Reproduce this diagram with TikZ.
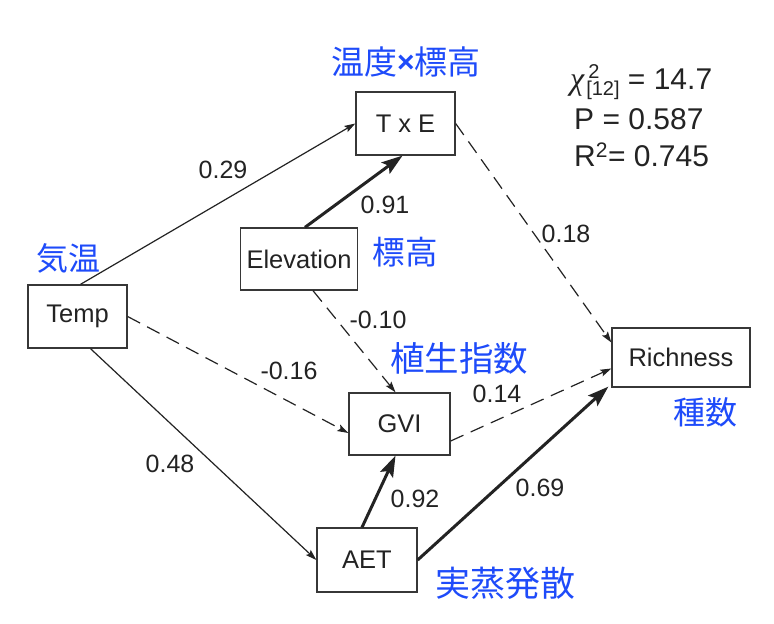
\documentclass[tikz,border=0pt]{standalone}
\usepackage{fontspec}
\setmainfont{Liberation Sans}
\newfontfamily\jp{Noto Sans CJK JP}
\newfontfamily\serifgr{Liberation Serif}
\usetikzlibrary{arrows.meta}
\definecolor{jblue}{RGB}{30,75,250}
\definecolor{boxc}{RGB}{55,55,55}
\definecolor{ink}{RGB}{35,35,35}
\tikzset{
  box/.style={draw=boxc,line width=1.3pt,fill=white,inner sep=0pt,
    font=\fontsize{25.5}{25.5}\selectfont,text=ink},
  thinarrow/.style={line width=1.2pt,draw=ink,-{Stealth[length=11pt,width=7pt,inset=2pt]}},
  dasharrow/.style={thinarrow,dash pattern=on 14pt off 8pt},
  thickarrow/.style={line width=3pt,draw=ink,-{Stealth[length=21pt,width=14pt,inset=4pt]}},
  coef/.style={font=\fontsize{25}{25}\selectfont,text=ink,inner sep=0pt},
  stat/.style={font=\fontsize{30}{30}\selectfont,text=ink,inner sep=0pt,anchor=west},
  jlab/.style={font=\jp\fontsize{33}{33}\selectfont,text=jblue,inner sep=0pt}
}
\begin{document}
\begin{tikzpicture}[x=1pt,y=-1pt]
\useasboundingbox[fill=white] (0,0) rectangle (774,624);
% nodes
\node[box,minimum width=99,minimum height=63] (txe) at (405.5,123.5) {T x E};
\node[box,minimum width=117,minimum height=62] (elev) at (299,259) {Elevation};
\node[box,minimum width=99,minimum height=63] (temp) at (77.5,316.5) {Temp};
\node[box,minimum width=101,minimum height=62] (gvi) at (399.5,424) {GVI};
\node[box,minimum width=100,minimum height=64] (aet) at (367,560) {AET};
\node[box,minimum width=138,minimum height=59] (rich) at (681,357.5) {Richness};
% connectors
\draw[thinarrow] ([xshift=3pt]temp.north) -- (txe.west);
\draw[thickarrow] ([xshift=6pt]elev.north) -- ([xshift=-3pt]txe.south);
\draw[dasharrow] (txe.east) -- ([yshift=15pt]rich.west);
\draw[dasharrow] ([xshift=14pt]elev.south) -- ([xshift=-4pt]gvi.north);
\draw[dasharrow] (temp.east) -- ([yshift=-9pt]gvi.west);
\draw[thinarrow] ([xshift=13pt]temp.south) -- (aet.west);
\draw[thickarrow] ([xshift=-5pt]aet.north) -- ([xshift=-4pt]gvi.south);
\draw[dasharrow] ([yshift=-17pt]gvi.east) -- ([yshift=-11pt]rich.west);
\draw[thickarrow] (aet.east) -- ([xshift=-3pt,yshift=1pt]rich.south west);
% coefficients
\node[coef] (c1) at (223,170) {0.29};
\node[coef] (c2) at (385,205) {0.91};
\node[coef] (c3) at (566,234) {0.18};
\node[coef] (c4) at (378,320) {-0.10};
\node[coef] (c5) at (289,371) {-0.16};
\node[coef] (c6) at (497,394) {0.14};
\node[coef] (c7) at (170,464) {0.48};
\node[coef] (c8) at (415,499) {0.92};
\node[coef] (c9) at (540,488) {0.69};
% statistics
\node[stat] (s1) at (570,82) {{\serifgr\itshape\fontsize{32}{32}\selectfont χ}\hspace{2pt}\raisebox{-6pt}{\fontsize{20}{18.5}\selectfont\shortstack[l]{\hspace{2pt}2\\{}[12]}} = 14.7};
\node[stat] (s2) at (574,119) {P = 0.587};
\node[stat] (s3) at (574,155) {R\textsuperscript{2}= 0.745};
% Japanese labels
\node[jlab] (j1) at (406,62) {温度\raisebox{0.05em}{\fontspec{Liberation Sans}\bfseries\fontsize{30}{30}\selectfont ×}標高};
\node[jlab,font=\jp\fontsize{32}{32}\selectfont] (j2) at (68,258) {気温};
\node[jlab,font=\jp\fontsize{32.5}{32.5}\selectfont] (j3) at (405,252) {標高};
\node[jlab,font=\jp\fontsize{34.5}{34.5}\selectfont] (j4) at (459,358) {植生指数};
\node[jlab,font=\jp\fontsize{32}{32}\selectfont] (j5) at (705,412) {種数};
\node[jlab,font=\jp\fontsize{35}{35}\selectfont] (j6) at (505,583) {実蒸発散};
\end{tikzpicture}
\end{document}
